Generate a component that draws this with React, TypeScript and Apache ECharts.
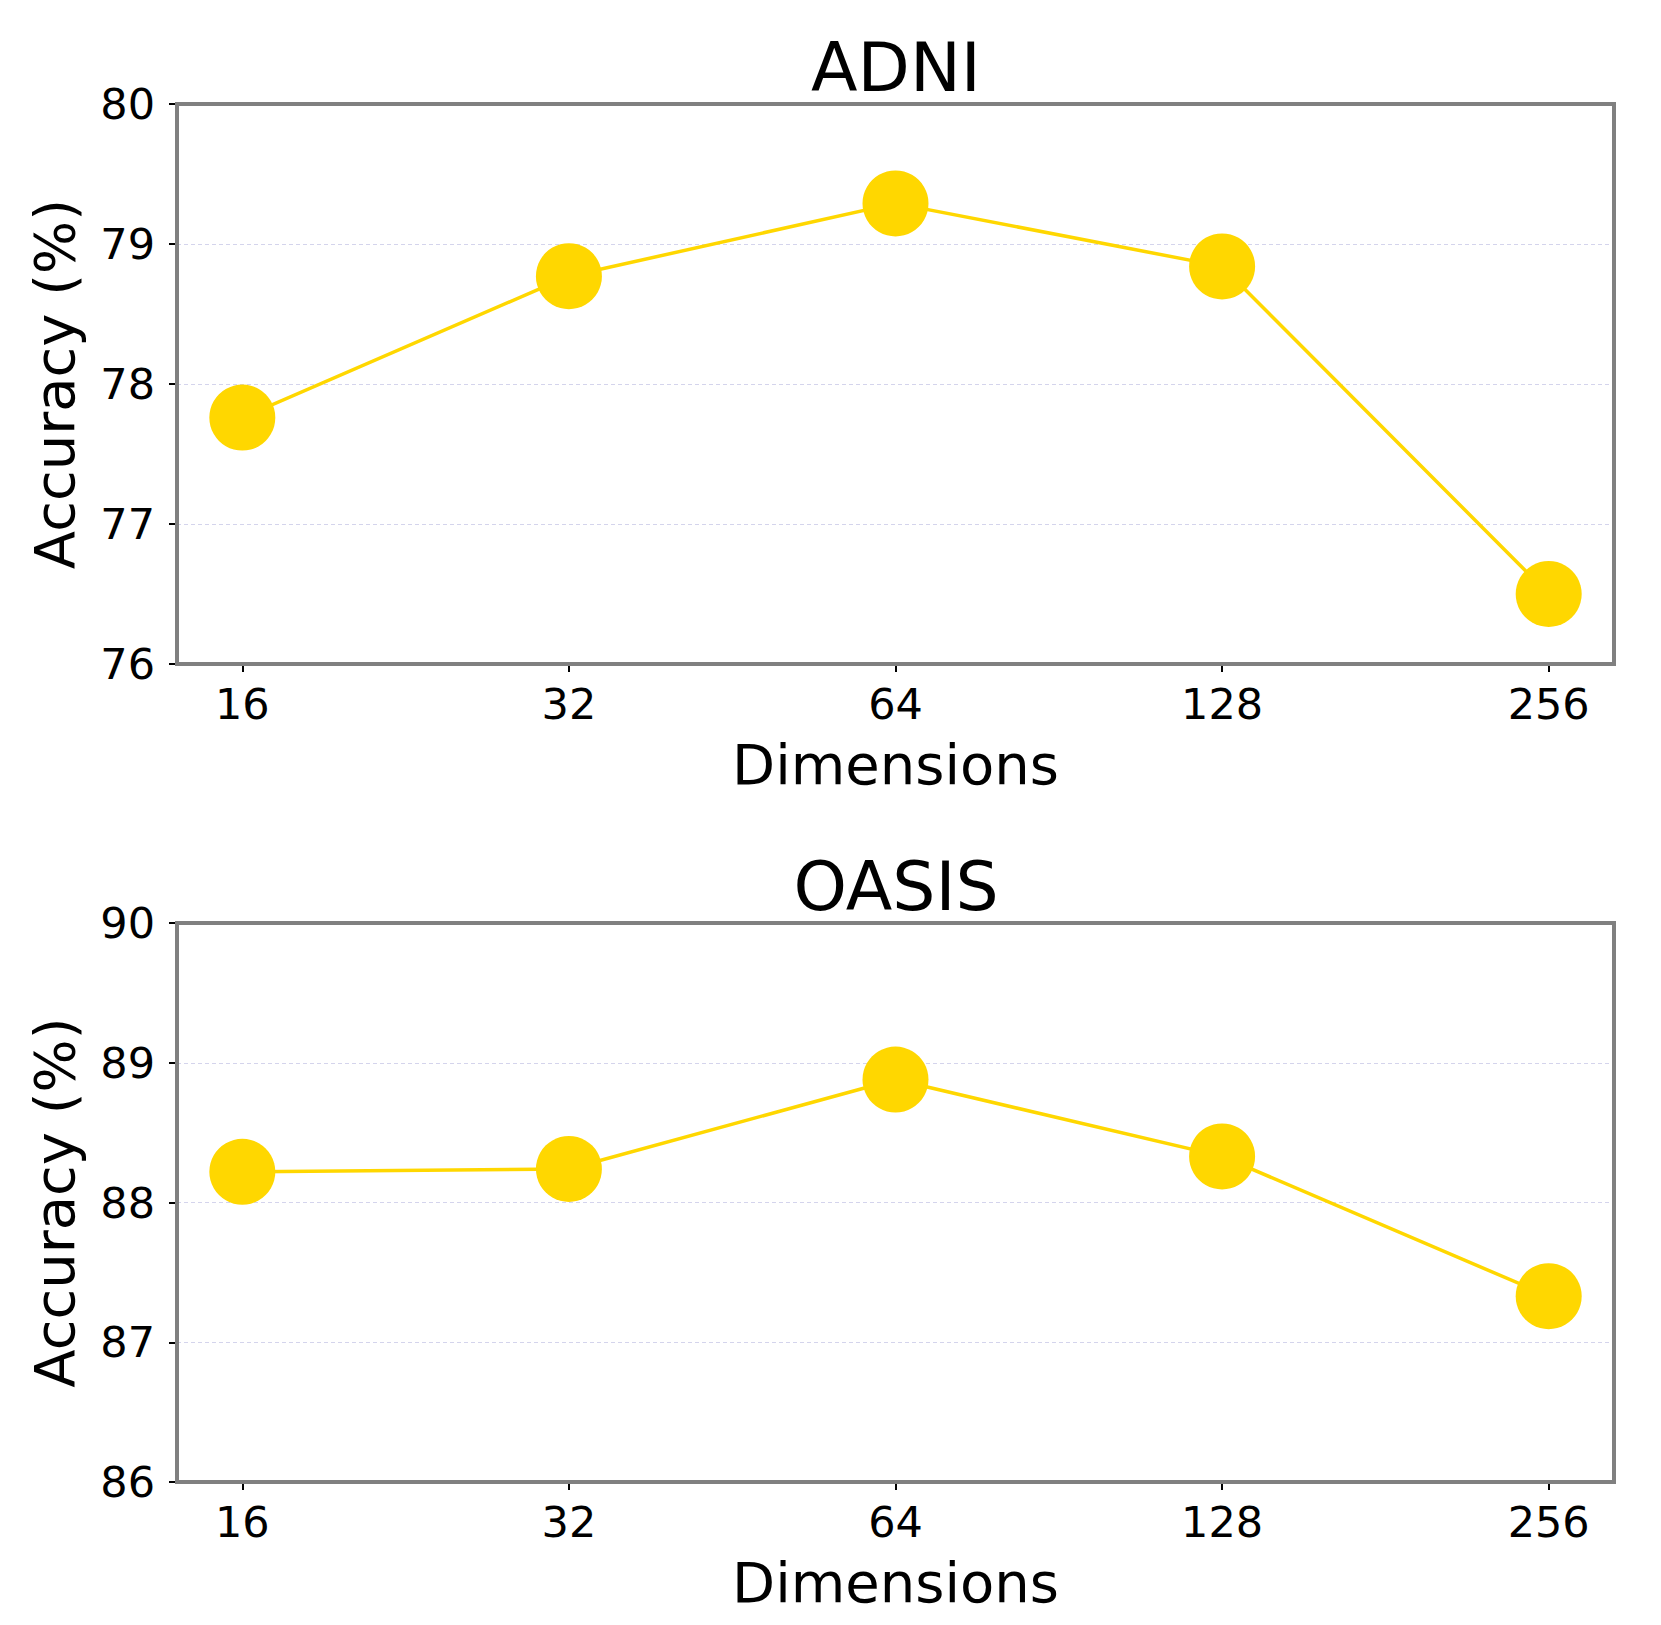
import React, { useEffect, useRef } from "react";
import * as echarts from "echarts";

const dimensions = ["16", "32", "64", "128", "256"];
const adniValues = [77.76, 78.77, 79.29, 78.84, 76.5];
const oasisValues = [88.22, 88.24, 88.88, 88.33, 87.33];
const adniTicks = [76, 77, 78, 79, 80];
const oasisTicks = [86, 87, 88, 89, 90];
const titles = ["ADNI", "OASIS"];

const FONT = "DejaVu Sans";
const GOLD = "#FFD700";

export default function App() {
  const ref = useRef<HTMLDivElement>(null);
  useEffect(() => {
    document.body.style.margin = "0";
    if (!ref.current) return;
    const chart = echarts.init(ref.current, undefined, { renderer: "svg" });
    const idx = dimensions.map((_, i) => i);
    const grids = [
      { left: 177, top: 104, width: 1437, height: 560 },
      { left: 177, top: 923, width: 1437, height: 559 },
    ];
    const tickSets = [adniTicks, oasisTicks];
    const valueSets = [adniValues, oasisValues];
    const xAxis = grids.map((_, g) => ({
      type: "value",
      gridIndex: g,
      min: -0.2,
      max: 4.2,
      name: "Dimensions",
      nameLocation: "middle",
      nameGap: 72,
      nameTextStyle: { fontFamily: FONT, fontSize: 56, color: "#000" },
      axisLine: { show: false, onZero: false },
      splitLine: { show: false },
      axisTick: {
        show: true,
        customValues: idx,
        length: 8,
        lineStyle: { color: "#000", width: 2 },
      },
      axisLabel: {
        customValues: idx,
        margin: 18,
        fontFamily: FONT,
        fontSize: 43,
        color: "#000",
        formatter: (v: number) => dimensions[Math.round(v)] ?? "",
      },
    }));
    const yAxis = grids.map((_, g) => ({
      type: "value",
      gridIndex: g,
      position: "left",
      min: tickSets[g][0],
      max: tickSets[g][tickSets[g].length - 1],
      interval: 1,
      name: "Accuracy (%)",
      nameLocation: "middle",
      nameRotate: 90,
      nameGap: 95,
      nameTextStyle: { fontFamily: FONT, fontSize: 56, color: "#000" },
      axisLine: { show: false, onZero: false },
      axisTick: {
        show: true,
        length: 8,
        lineStyle: { color: "#000", width: 2 },
      },
      axisLabel: {
        margin: 22,
        fontFamily: FONT,
        fontSize: 43,
        color: "#000",
      },
      splitLine: {
        show: true,
        lineStyle: { color: "#d4d4ec", width: 1, type: [4, 3] },
      },
    }));
    const series = valueSets.map((vals, g) => ({
      type: "line",
      xAxisIndex: g,
      yAxisIndex: g,
      data: vals.map((v, i) => [i, v]),
      symbol: "circle",
      symbolSize: 66,
      lineStyle: { color: GOLD, width: 3.5 },
      itemStyle: { color: GOLD },
      clip: false,
      z: 3,
    }));
    chart.setOption({
      animation: false,
      backgroundColor: "#fff",
      title: titles.map((t, g) => ({
        text: t,
        left: 891,
        top: g === 0 ? 28 : 847,
        textAlign: "center",
        textStyle: {
          fontFamily: FONT,
          fontSize: 68,
          fontWeight: "normal",
          color: "#000",
        },
      })),
      grid: grids.map((gr) => ({
        ...gr,
        show: true,
        borderColor: "#808080",
        borderWidth: 4,
        backgroundColor: "transparent",
        z: 1,
      })),
      xAxis,
      yAxis,
      series,
    });
    return () => chart.dispose();
  }, []);
  return <div ref={ref} style={{ width: 1661, height: 1625 }} />;
}
